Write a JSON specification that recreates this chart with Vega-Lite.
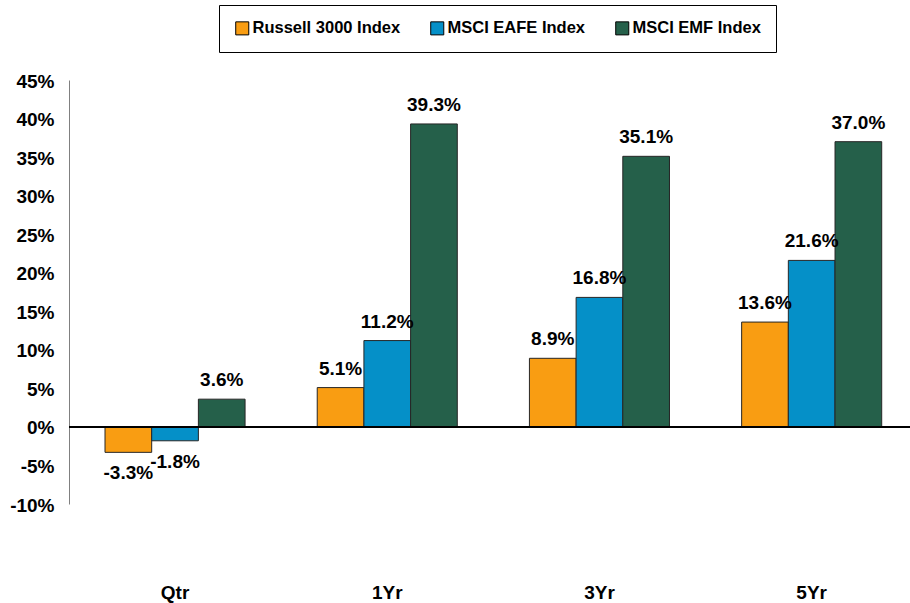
{
  "$schema": "https://vega.github.io/schema/vega-lite/v6.json",
  "width": 841,
  "height": 424,
  "autosize": {"type": "none"},
  "padding": {"left": 69, "top": 80, "right": 0, "bottom": 99},
  "background": "white",
  "config": {
    "view": {"stroke": null},
    "font": "Liberation Sans",
    "locale": {
      "number": {"decimal": ".", "thousands": ",", "grouping": [3], "currency": ["$", ""], "minus": "-"}
    }
  },
  "data": {
    "values": [
      {"period": "Qtr", "index": "Russell 3000 Index", "value": -0.033},
      {"period": "Qtr", "index": "MSCI EAFE Index", "value": -0.018},
      {"period": "Qtr", "index": "MSCI EMF Index", "value": 0.036},
      {"period": "1Yr", "index": "Russell 3000 Index", "value": 0.051},
      {"period": "1Yr", "index": "MSCI EAFE Index", "value": 0.112},
      {"period": "1Yr", "index": "MSCI EMF Index", "value": 0.393},
      {"period": "3Yr", "index": "Russell 3000 Index", "value": 0.089},
      {"period": "3Yr", "index": "MSCI EAFE Index", "value": 0.168},
      {"period": "3Yr", "index": "MSCI EMF Index", "value": 0.351},
      {"period": "5Yr", "index": "Russell 3000 Index", "value": 0.136},
      {"period": "5Yr", "index": "MSCI EAFE Index", "value": 0.216},
      {"period": "5Yr", "index": "MSCI EMF Index", "value": 0.370}
    ]
  },
  "encoding": {
    "x": {
      "field": "period", "type": "nominal", "sort": ["Qtr", "1Yr", "3Yr", "5Yr"],
      "scale": {"paddingInner": 0.34, "paddingOuter": 0.1515, "align": 0.56},
      "axis": {"title": null, "domain": false, "ticks": false, "labelAngle": 0, "labelPadding": 79, "labelFontSize": 19, "labelFontWeight": "bold", "labelColor": "#000000"}
    },
    "xOffset": {"field": "index", "type": "nominal", "sort": ["Russell 3000 Index", "MSCI EAFE Index", "MSCI EMF Index"]},
    "y": {
      "field": "value", "type": "quantitative",
      "scale": {"domain": [-0.1, 0.45], "nice": false, "zero": false},
      "axis": {"title": null, "values": [-0.1, -0.05, 0, 0.05, 0.1, 0.15, 0.2, 0.25, 0.3, 0.35, 0.4, 0.45], "format": ".0%", "grid": false, "ticks": false, "domainColor": "#808080", "domainWidth": 1, "labelPadding": 15, "labelOffset": 1, "labelFontSize": 19, "labelFontWeight": "bold", "labelColor": "#000000", "labelOverlap": false}
    }
  },
  "layer": [
    {
      "mark": {"type": "bar", "stroke": "#262626", "strokeWidth": 1},
      "encoding": {
        "color": {
          "field": "index", "type": "nominal",
          "scale": {"domain": ["Russell 3000 Index", "MSCI EAFE Index", "MSCI EMF Index"], "range": ["#F99D12", "#0590C8", "#25604A"]},
          "legend": {
            "title": null, "orient": "none", "legendX": 150, "legendY": -75, "direction": "horizontal",
            "strokeColor": "#000000", "fillColor": "white", "padding": 15,
            "symbolType": "square", "symbolSize": 170, "symbolStrokeColor": "#000000", "symbolStrokeWidth": 1, "symbolOpacity": 1,
            "labelFontSize": 16.5, "labelFontWeight": "bold", "labelColor": "#000000", "labelOffset": 2, "columnPadding": 27
          }
        }
      }
    },
    {
      "mark": {"type": "rule", "color": "#000000", "strokeWidth": 1},
      "encoding": {"y": {"datum": 0}, "x": null, "xOffset": null}
    },
    {
      "transform": [{"filter": "datum.value >= 0"}],
      "mark": {"type": "text", "baseline": "middle", "align": "center", "dy": -19, "fontSize": 19, "fontWeight": "bold", "color": "#000000"},
      "encoding": {"text": {"field": "value", "type": "quantitative", "format": ".1%"}}
    },
    {
      "transform": [{"filter": "datum.value < 0"}],
      "mark": {"type": "text", "baseline": "middle", "align": "center", "dy": 21, "fontSize": 19, "fontWeight": "bold", "color": "#000000"},
      "encoding": {"text": {"field": "value", "type": "quantitative", "format": ".1%"}}
    }
  ]
}
